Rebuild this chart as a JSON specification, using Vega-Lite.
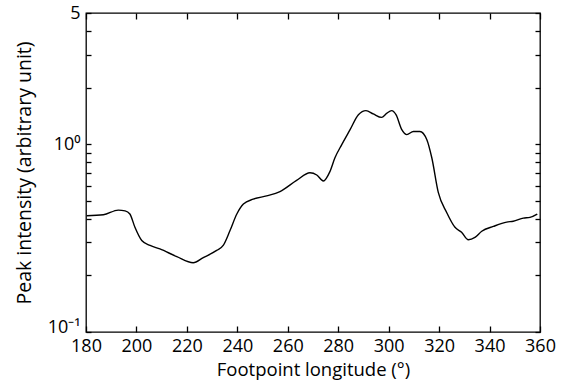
{
  "$schema": "https://vega.github.io/schema/vega-lite/v6.json",
  "width": 454,
  "height": 319,
  "autosize": {"type": "none"},
  "padding": {"left": 86, "top": 13, "right": 26, "bottom": 56},
  "background": "white",
  "config": {
    "view": {"stroke": "black", "strokeWidth": 1.3},
    "font": "Open Sans",
    "axis": {"grid": false, "domain": false, "tickColor": "black", "labelColor": "black", "titleColor": "black", "labelFont": "Open Sans", "titleFont": "Open Sans", "labelFontSize": 18, "titleFontSize": 18.5, "titleFontWeight": "normal", "tickWidth": 1.3}
  },
  "data": {"values": [
    {"lon": 180.3, "intensity": 0.416},
    {"lon": 186.9, "intensity": 0.421},
    {"lon": 192.8, "intensity": 0.446},
    {"lon": 195.5, "intensity": 0.442},
    {"lon": 197.4, "intensity": 0.425},
    {"lon": 199.4, "intensity": 0.361},
    {"lon": 202.1, "intensity": 0.307},
    {"lon": 205.4, "intensity": 0.289},
    {"lon": 209.3, "intensity": 0.277},
    {"lon": 216.0, "intensity": 0.252},
    {"lon": 222.5, "intensity": 0.234},
    {"lon": 226.5, "intensity": 0.249},
    {"lon": 231.8, "intensity": 0.272},
    {"lon": 234.4, "intensity": 0.289},
    {"lon": 237.1, "intensity": 0.347},
    {"lon": 239.8, "intensity": 0.425},
    {"lon": 242.4, "intensity": 0.48},
    {"lon": 246.3, "intensity": 0.51},
    {"lon": 251.6, "intensity": 0.531},
    {"lon": 256.9, "intensity": 0.56},
    {"lon": 263.5, "intensity": 0.642},
    {"lon": 268.8, "intensity": 0.705},
    {"lon": 271.5, "intensity": 0.686},
    {"lon": 274.1, "intensity": 0.637},
    {"lon": 276.7, "intensity": 0.715},
    {"lon": 278.7, "intensity": 0.847},
    {"lon": 281.4, "intensity": 0.996},
    {"lon": 284.7, "intensity": 1.196},
    {"lon": 288.0, "intensity": 1.436},
    {"lon": 291.0, "intensity": 1.51},
    {"lon": 293.9, "intensity": 1.45},
    {"lon": 297.2, "intensity": 1.39},
    {"lon": 299.2, "intensity": 1.46},
    {"lon": 301.2, "intensity": 1.51},
    {"lon": 302.9, "intensity": 1.436},
    {"lon": 305.2, "intensity": 1.196},
    {"lon": 307.2, "intensity": 1.125},
    {"lon": 309.8, "intensity": 1.17},
    {"lon": 312.4, "intensity": 1.17},
    {"lon": 315.1, "intensity": 1.06},
    {"lon": 317.1, "intensity": 0.847},
    {"lon": 319.7, "intensity": 0.552},
    {"lon": 323.0, "intensity": 0.433},
    {"lon": 326.3, "intensity": 0.361},
    {"lon": 328.9, "intensity": 0.34},
    {"lon": 331.6, "intensity": 0.31},
    {"lon": 334.2, "intensity": 0.319},
    {"lon": 336.9, "intensity": 0.344},
    {"lon": 341.5, "intensity": 0.365},
    {"lon": 346.8, "intensity": 0.385},
    {"lon": 349.4, "intensity": 0.389},
    {"lon": 353.4, "intensity": 0.404},
    {"lon": 356.0, "intensity": 0.408},
    {"lon": 358.9, "intensity": 0.425}
  ]},
  "layer": [
    {
      "mark": {"type": "line", "color": "black", "strokeWidth": 1.4, "interpolate": "monotone"},
      "encoding": {
        "x": {"field": "lon", "type": "quantitative", "scale": {"domain": [180, 360], "nice": false, "zero": false},
              "axis": {"orient": "bottom", "title": "Footpoint longitude (°)", "values": [180,200,220,240,260,280,300,320,340,360], "tickSize": -6, "labelPadding": 11, "titlePadding": 5, "labelFlush": false, "labelBaseline": "top"}},
        "y": {"field": "intensity", "type": "quantitative", "scale": {"type": "log", "domain": [0.1, 5], "nice": false},
              "axis": {"orient": "left", "title": "Peak intensity (arbitrary unit)", "values": [0.1,0.2,0.3,0.4,0.5,0.6,0.7,0.8,0.9,1,2,3,4,5], "tickSize": -5, "labelPadding": 11, "titlePadding": 13, "labelFlush": false, "titleFontSize": 19.5,
                       "labelOffset": {"condition": {"test": "datum.value == 0.1", "value": -5}, "value": 0},
                       "labelExpr": "datum.value == 1 ? '10⁰' : (datum.value == 0.1 ? '10⁻¹' : (datum.value == 5 ? '5' : ''))"}}
      }
    },
    {
      "mark": {"type": "line", "color": "black", "strokeOpacity": 0, "interpolate": "monotone"},
      "encoding": {
        "x": {"field": "lon", "type": "quantitative", "scale": {"domain": [180, 360], "nice": false, "zero": false},
              "axis": {"orient": "top", "title": null, "labels": false, "values": [180,200,220,240,260,280,300,320,340,360], "tickSize": -6}},
        "y": {"field": "intensity", "type": "quantitative", "scale": {"type": "log", "domain": [0.1, 5], "nice": false},
              "axis": {"orient": "right", "title": null, "labels": false, "values": [0.1,0.2,0.3,0.4,0.5,0.6,0.7,0.8,0.9,1,2,3,4,5], "tickSize": -5}}
      }
    }
  ],
  "resolve": {"axis": {"x": "independent", "y": "independent"}}
}
